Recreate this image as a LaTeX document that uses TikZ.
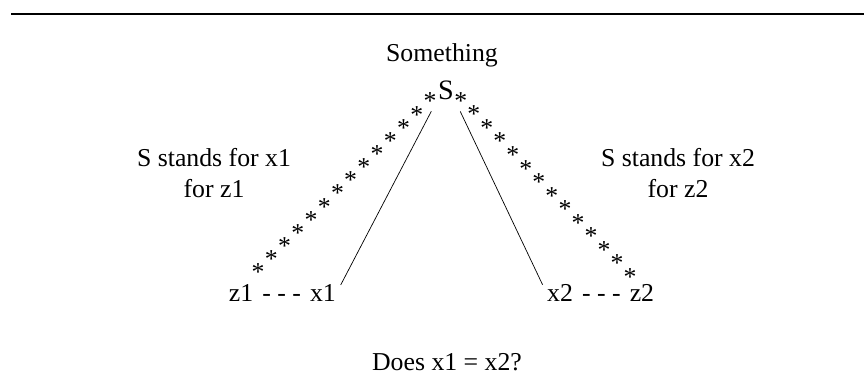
\documentclass[tikz,border=0pt]{standalone}
\usepackage{fontspec}
\setmainfont{Liberation Serif}
\usetikzlibrary{positioning,calc}

\begin{document}
\begin{tikzpicture}[
    x=0.03cm, y=-0.03cm,
    node distance=2.6mm,
    txt/.style={inner sep=0pt, font=\fontsize{22}{27}\selectfont},
    rowtxt/.style={txt, text height=0.68em, text depth=0pt},
    note/.style={txt, align=center},
    root/.style={inner sep=1pt, font=\fontsize{24}{28}\selectfont},
    ast/.style={inner sep=0pt, text height=0.68em, text depth=-0.36em, font=\fontsize{22}{24}\selectfont},
    arm/.style={line width=0.6pt, shorten <=3.5mm, shorten >=3mm}
]
\useasboundingbox (0,0) rectangle (864,391);

% rule above the figure
\draw[line width=1.1pt] (11,14) -- (864,14);

% root
\node[root] (S) at (446,90) {S};
\node[txt] (top) at (442,55) {Something};

% the two leaves
\node[rowtxt] (z1) at (241,298) {z1};
\node[rowtxt, right=of z1] (d1) {- - -};
\node[rowtxt, right=of d1] (x1) {x1};

\node[rowtxt] (x2) at (560,298) {x2};
\node[rowtxt, right=of x2] (d2) {- - -};
\node[rowtxt, right=of d2] (z2) {z2};

% side notes + question
\node[note] (n1) at (214,173) {S stands for x1\\for z1};
\node[note] (n2) at (678,173) {S stands for x2\\for z2};
\node[txt] (q) at (447,362) {Does x1 = x2?};

% solid arms
\draw[arm] (S.south west) -- (x1.north east);
\draw[arm] (S.south east) -- (x2.north west);

% starred arms
\foreach \e/\a/\d in {z1/0.078/0.0645, z2/0.075/0.0665}{
  \foreach \i in {0,...,13}{
    \pgfmathsetmacro\t{\a+\i*\d}
    \node[ast] at ($(S.center)!\t!(\e.north)$) {*};
  }
}

\end{tikzpicture}
\end{document}
